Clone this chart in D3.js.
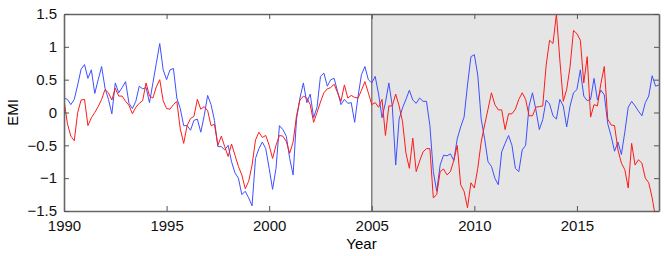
<!DOCTYPE html>
<html>
<head>
<meta charset="utf-8">
<script src="https://cdn.jsdelivr.net/npm/d3@7"></script>
<style>
  body { margin: 0; background: #fff; }
  text { font-family: "Liberation Sans", Arial, sans-serif; }
</style>
</head>
<body>
<script>
// bimonthly samples, starting Jan 1990
var startYear = 1990
var stepYear = 1 / 6

var emiRed = [0.19,-0.17,-0.36,-0.43,0.0,0.19,0.2,-0.2,-0.08,0.0,
  0.09,0.2,0.35,0.3,0.19,0.37,0.25,0.25,0.17,0.11,
  -0.02,0.08,0.14,0.18,0.45,0.25,0.22,0.39,0.5,0.18,
  0.06,0.05,0.12,0.17,-0.25,-0.47,-0.2,-0.09,-0.06,0.2,
  0.05,0.09,0.03,-0.2,-0.18,-0.5,-0.36,-0.52,-0.67,-0.48,
  -0.65,-0.82,-0.95,-1.16,-1.05,-0.8,-0.42,-0.3,-0.38,-0.35,
  -0.5,-0.7,-0.5,-0.35,-0.36,-0.44,-0.62,-0.45,-0.05,0.19,
  0.25,0.22,0.12,-0.15,0.0,0.16,0.3,0.36,0.38,0.43,
  0.3,0.17,0.42,0.22,0.26,0.23,0.22,0.34,0.47,0.3,
  0.12,0.15,0.08,0.2,-0.35,0.1,0.1,0.28,0.1,-0.14,
  -0.62,-0.85,-0.39,-0.9,-0.74,-0.6,-0.55,-0.55,-1.3,-1.25,
  -0.9,-0.86,-0.95,-0.9,-0.73,-0.5,-1.1,-1.2,-1.45,-1.07,
  -1.15,-0.85,-0.45,-0.19,0.05,0.3,0.12,0.04,0.04,-0.26,
  -0.02,-0.02,0.05,0.2,0.3,0.2,-0.05,-0.05,0.08,0.09,
  0.1,0.72,1.1,1.05,1.5,0.8,0.17,0.35,0.7,1.25,
  1.2,1.1,0.45,0.85,-0.07,0.12,0.1,0.44,0.7,-0.1,
  -0.19,-0.2,-0.57,-0.77,-0.87,-1.15,-0.47,-0.8,-0.72,-0.77,
  -1.0,-1.07,-1.3,-1.6,-1.7]

var emiBlue = [0.22,0.2,0.12,0.2,0.42,0.66,0.73,0.52,0.65,0.29,
  0.5,0.7,0.37,0.2,-0.02,0.45,0.3,0.38,0.47,0.14,
  0.06,0.17,0.4,0.36,0.38,0.15,0.45,0.75,1.05,0.65,
  0.5,0.65,0.67,0.22,0.06,-0.2,-0.2,-0.27,-0.12,-0.1,
  -0.3,-0.05,0.26,0.12,-0.12,-0.52,-0.52,-0.57,-0.5,-0.75,
  -0.92,-1.0,-1.25,-1.2,-1.3,-1.42,-0.7,-0.55,-0.45,-0.55,
  -0.85,-1.17,-0.85,-0.2,-0.26,-0.36,-0.7,-0.95,-0.1,0.22,
  0.45,0.15,0.28,-0.08,0.08,0.55,0.6,0.4,0.5,0.52,
  0.32,0.12,0.2,0.14,0.15,-0.15,0.25,0.58,0.7,0.5,
  0.45,0.55,0.28,-0.08,0.15,0.45,0.1,-0.8,-0.1,0.07,
  0.2,0.34,0.19,0.14,0.22,0.17,0.17,-0.2,-0.9,-1.2,
  -0.8,-0.65,-0.66,-0.63,-0.73,-0.4,-0.22,-0.07,0.42,0.85,
  0.88,0.57,-0.1,-0.4,-0.75,-0.82,-1.0,-1.1,-0.6,-0.47,
  -0.35,-0.5,-0.85,-0.9,-0.57,-0.5,0.1,0.3,0.04,-0.26,
  -0.11,0.19,0.13,-0.05,-0.1,0.2,0.1,-0.22,0.1,0.3,
  0.35,0.65,0.25,0.18,0.2,0.52,0.19,0.34,0.27,-0.17,
  -0.36,-0.59,-0.45,-0.64,-0.3,0.08,0.17,0.1,0.02,-0.05,
  0.15,0.25,0.56,0.4,0.42]

var xTicks = [1990, 1995, 2000, 2005, 2010, 2015]
var yTicks = [-1.5, -1, -0.5, 0, 0.5, 1, 1.5]
var shadeFrom = 2005

var margin = {top: 14, right: 5, bottom: 45, left: 64}
  , width = 664 - margin.left - margin.right
  , height = 256 - margin.top - margin.bottom

var xScale = d3.scaleLinear().domain([1990, 2019]).range([0, width])
var yScale = d3.scaleLinear().domain([-1.5, 1.5]).range([height, 0])

var root = d3.select("body").append("svg")
    .attr("width", 664)
    .attr("height", 256)

var svg = root.append("g")
    .attr("transform", "translate(" + margin.left + "," + margin.top + ")")

svg.append("clipPath").attr("id", "clip")
  .append("rect").attr("width", width).attr("height", height)

// shaded period
svg.append("rect")
    .attr("x", xScale(shadeFrom))
    .attr("y", 0)
    .attr("width", xScale(2019) - xScale(shadeFrom))
    .attr("height", height)
    .attr("fill", "#e5e5e5")
svg.append("line")
    .attr("x1", xScale(shadeFrom)).attr("x2", xScale(shadeFrom))
    .attr("y1", 0).attr("y2", height)
    .attr("stroke", "#707070")
    .attr("stroke-width", 1.3)

var line = d3.line()
    .x(function(d, i) { return xScale(startYear + i * stepYear) })
    .y(function(d) { return yScale(d) })

var lines = svg.append("g").attr("clip-path", "url(#clip)")
lines.append("path").datum(emiBlue)
    .attr("d", line).attr("fill", "none")
    .attr("stroke", "#3d50ff").attr("stroke-width", 1)
lines.append("path").datum(emiRed)
    .attr("d", line).attr("fill", "none")
    .attr("stroke", "#ff1a1a").attr("stroke-width", 1)

// axes, matlab style box with inward ticks
var fmt = function(d) { return String(d).replace("-", "\u2212") }

svg.append("g").attr("transform", "translate(0," + height + ")")
    .call(d3.axisBottom(xScale).tickValues(xTicks).tickSizeInner(-5).tickSizeOuter(0).tickPadding(9).tickFormat(d3.format("d")))
svg.append("g")
    .call(d3.axisTop(xScale).tickValues(xTicks).tickSizeInner(-5).tickSizeOuter(0).tickFormat(""))
svg.append("g")
    .call(d3.axisLeft(yScale).tickValues(yTicks).tickSizeInner(-5).tickSizeOuter(0).tickPadding(7).tickFormat(fmt))
svg.append("g").attr("transform", "translate(" + width + ",0)")
    .call(d3.axisRight(yScale).tickValues(yTicks).tickSizeInner(-5).tickSizeOuter(0).tickFormat(""))

root.selectAll(".domain").attr("stroke", "#666").attr("stroke-width", 1.6)
root.selectAll(".tick line").attr("stroke", "#555")
root.selectAll(".tick text").attr("font-size", "15px").attr("fill", "#111")
    .style("font-family", "'Liberation Sans', Arial, sans-serif")

svg.append("text")
    .attr("x", width / 2).attr("y", height + 38)
    .attr("text-anchor", "middle")
    .attr("font-size", "15px")
    .text("Year")

svg.append("text")
    .attr("transform", "translate(" + (-46) + "," + (height / 2) + ") rotate(-90)")
    .attr("text-anchor", "middle")
    .attr("font-size", "15px")
    .text("EMI")
</script>
</body>
</html>
